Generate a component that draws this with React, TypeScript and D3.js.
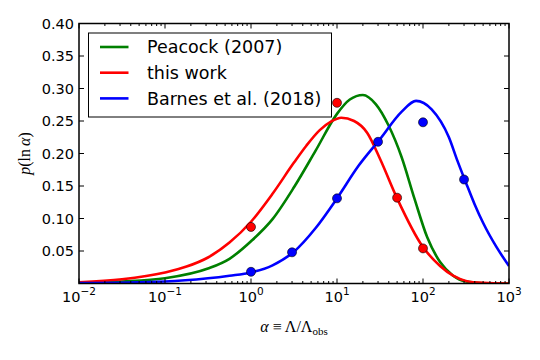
import { useEffect, useRef } from "react";
import * as d3 from "d3";

// curve readings: [alpha, p(ln alpha)]
const peacock: [number, number][] = [
  [0.01, 0.001], [0.0316, 0.003], [0.1, 0.008], [0.316, 0.023], [0.562, 0.038],
  [1, 0.065], [1.78, 0.099], [3.16, 0.148], [5.62, 0.204], [10, 0.261],
  [14.1, 0.283], [20, 0.29], [28.2, 0.276], [39.8, 0.243], [56.2, 0.195],
  [79.4, 0.131], [112, 0.071], [158, 0.033], [224, 0.012], [316, 0.003],
  [501, 0.0005], [1000, 0.0],
];
const thisWork: [number, number][] = [
  [0.01, 0.002], [0.0316, 0.0065], [0.1, 0.017], [0.178, 0.026], [0.316, 0.04],
  [0.562, 0.063], [1, 0.095], [1.78, 0.138], [3.16, 0.186], [4.4, 0.212],
  [6.3, 0.236], [8.5, 0.249], [11.2, 0.255], [15.8, 0.25], [22.4, 0.232],
  [31.6, 0.192], [50, 0.131], [100, 0.056], [158, 0.027], [224, 0.012],
  [316, 0.004], [501, 0.001], [1000, 0.0],
];
const barnes: [number, number][] = [
  [0.01, 0.0005], [0.1, 0.003], [0.316, 0.008], [0.562, 0.012], [1, 0.017],
  [1.78, 0.028], [3.16, 0.049], [5.62, 0.085], [10, 0.131], [17.8, 0.181],
  [31.6, 0.222], [56.2, 0.264], [83, 0.281], [126, 0.268], [200, 0.225],
  [251, 0.189], [316, 0.155], [398, 0.122], [501, 0.093], [708, 0.057],
  [1000, 0.027],
];
const thisWorkPts: [number, number][] = [[1, 0.087], [10, 0.278], [50, 0.132], [100, 0.054]];
const barnesPts: [number, number][] = [
  [1, 0.018], [3, 0.048], [10, 0.131], [30, 0.218], [100, 0.248], [300, 0.16],
];

const seriesNames = ["Peacock (2007)", "this work", "Barnes et al. (2018)"];
const seriesColors = ["#008000", "#ff0000", "#0000ff"];
const yTicks = [0.05, 0.1, 0.15, 0.2, 0.25, 0.3, 0.35, 0.4];
const xDecades = [-2, -1, 0, 1, 2, 3];

export default function App() {
  const ref = useRef<SVGSVGElement>(null);

  useEffect(() => {
    const svg = d3.select(ref.current);
    svg.selectAll("*").remove();

    const L = 79, R = 509, T = 23.5, B = 283.5;
    const x = d3.scaleLog().domain([0.01, 1000]).range([L, R]);
    const y = d3.scaleLinear().domain([0, 0.4]).range([B, T]);

    svg.append("defs").append("clipPath").attr("id", "clip")
      .append("rect").attr("x", L).attr("y", T).attr("width", R - L).attr("height", B - T);

    const g = svg.append("g").attr("clip-path", "url(#clip)");
    const line = d3.line<[number, number]>()
      .x(d => x(d[0])).y(d => y(d[1]))
      .curve(d3.curveMonotoneX);

    [peacock, thisWork, barnes].forEach((s, i) => {
      g.append("path").attr("d", line(s)!).attr("fill", "none")
        .attr("stroke", seriesColors[i]).attr("stroke-width", 2.6);
    });

    const dots = (pts: [number, number][], color: string) =>
      g.selectAll(null).data(pts).join("circle")
        .attr("cx", d => x(d[0])).attr("cy", d => y(d[1])).attr("r", 4.5)
        .attr("fill", color).attr("stroke", "#000").attr("stroke-width", 0.6);
    dots(thisWorkPts, seriesColors[1]);
    dots(barnesPts, seriesColors[2]);

    // ticks (inward, all four sides)
    const ax = svg.append("g").attr("stroke", "#000").attr("stroke-width", 1);
    yTicks.forEach(v => {
      ax.append("line").attr("x1", L).attr("x2", L + 5).attr("y1", y(v)).attr("y2", y(v));
      ax.append("line").attr("x1", R).attr("x2", R - 5).attr("y1", y(v)).attr("y2", y(v));
    });
    xDecades.forEach(e => {
      const px = x(Math.pow(10, e));
      ax.append("line").attr("x1", px).attr("x2", px).attr("y1", B).attr("y2", B - 5);
      ax.append("line").attr("x1", px).attr("x2", px).attr("y1", T).attr("y2", T + 5);
      if (e < 3) {
        for (let k = 2; k <= 9; k++) {
          const mx = x(k * Math.pow(10, e));
          ax.append("line").attr("x1", mx).attr("x2", mx).attr("y1", B).attr("y2", B - 2.5);
          ax.append("line").attr("x1", mx).attr("x2", mx).attr("y1", T).attr("y2", T + 2.5);
        }
      }
    });

    svg.append("rect").attr("x", L).attr("y", T).attr("width", R - L).attr("height", B - T)
      .attr("fill", "none").attr("stroke", "#000").attr("stroke-width", 1.5);

    const font = "DejaVu Sans";
    svg.append("g").selectAll("text").data(yTicks).join("text")
      .attr("x", L - 5).attr("y", d => y(d)).attr("dy", "0.36em")
      .attr("text-anchor", "end").attr("font-family", font).attr("font-size", 14.5)
      .text(d => d.toFixed(2));

    xDecades.forEach(e => {
      const t = svg.append("text").attr("x", x(Math.pow(10, e))).attr("y", 301.5)
        .attr("text-anchor", "middle").attr("font-family", font).attr("font-size", 14.5);
      t.append("tspan").text("10");
      t.append("tspan").attr("dy", -7).attr("font-size", 10.5)
        .text(e < 0 ? "\u2212" + Math.abs(e) : String(e));
    });

    // axis labels
    const xl = svg.append("text").attr("x", (L + R) / 2).attr("y", 332)
      .attr("text-anchor", "middle").attr("font-family", "Liberation Serif").attr("font-size", 16);
    xl.append("tspan").attr("font-style", "italic").text("\u03b1");
    xl.append("tspan").text(" \u2261 \u039b/\u039b");
    xl.append("tspan").attr("font-size", 11).attr("dy", 3).text("obs");

    const yl = svg.append("text").attr("transform", `translate(30,${(T + B) / 2}) rotate(-90)`)
      .attr("text-anchor", "middle").attr("font-family", "Liberation Serif").attr("font-size", 16);
    yl.append("tspan").attr("font-style", "italic").text("p");
    yl.append("tspan").text("(ln\u2009");
    yl.append("tspan").attr("font-style", "italic").text("\u03b1");
    yl.append("tspan").text(")");

    // legend
    const lg = svg.append("g");
    lg.append("rect").attr("x", 88.5).attr("y", 33).attr("width", 243).attr("height", 84)
      .attr("fill", "#fff").attr("stroke", "#000").attr("stroke-width", 1);
    seriesNames.forEach((n, i) => {
      const yy = 47 + i * 25.7;
      lg.append("line").attr("x1", 100).attr("x2", 128.5).attr("y1", yy).attr("y2", yy)
        .attr("stroke", seriesColors[i]).attr("stroke-width", 2.6);
      lg.append("text").attr("x", 147).attr("y", yy).attr("dy", "0.36em")
        .attr("font-family", font).attr("font-size", 17.5).text(n);
    });
  }, []);

  return (
    <svg ref={ref} width={540} height={360}
      style={{ position: "absolute", left: 0, top: 0, background: "#fff" }} />
  );
}
